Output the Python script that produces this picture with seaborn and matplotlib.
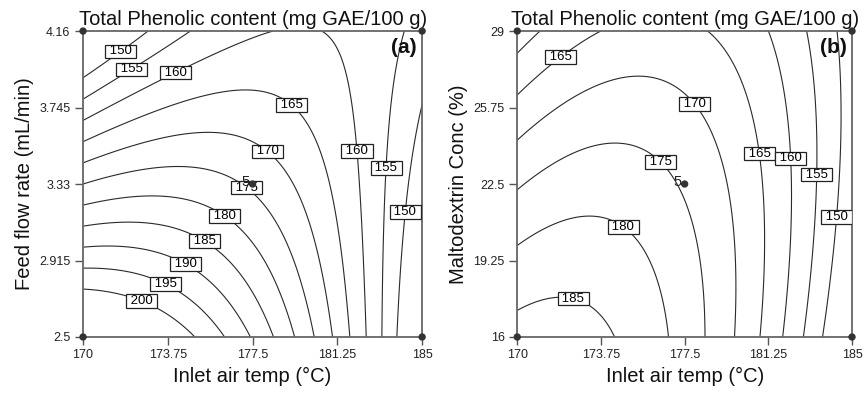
import numpy as np
import matplotlib
matplotlib.use("Agg")
import matplotlib.pyplot as plt
import seaborn as sns
import pandas as pd

# ---------------- data ----------------
title_text = "Total Phenolic content (mg GAE/100 g)"
temp_range = [170, 185]
temp_ticks = [170, 173.75, 177.5, 181.25, 185]
temp_ticklabels = ["170", "173.75", "177.5", "181.25", "185"]

# panel (a): Inlet air temp x Feed flow rate
flow_range = [2.5, 4.16]
flow_ticks = [2.5, 2.915, 3.33, 3.745, 4.16]
flow_ticklabels = ["2.5", "2.915", "3.33", "3.745", "4.16"]
# quadratic model in coded units: b0, A, B, AB, A^2, B^2
coef_a = [174.15, -14.1, -15.1, 21.1, -13.25, 0.3]
levels_a = [150, 155, 160, 165, 170, 175, 180, 185, 190, 195, 200]

# panel (b): Inlet air temp x Maltodextrin conc
malto_range = [16, 29]
malto_ticks = [16, 19.25, 22.5, 25.75, 29]
malto_ticklabels = ["16", "19.25", "22.5", "25.75", "29"]
coef_b = [174.4, -13.8, -6.0, 8.8, -13.75, -2.45]
levels_b = [150, 155, 160, 165, 170, 175, 180, 185]

# label positions (layout)
lab_pos_a = [(171.55, 4.07), (172.0, 3.98), (173.98, 3.965), (179.5, 3.796),
             (178.36, 3.536), (177.39, 3.335), (176.42, 3.184), (175.49, 3.042),
             (174.65, 2.923), (173.76, 2.815), (172.65, 2.717),
             (182.17, 3.509), (183.45, 3.417), (184.16, 3.178)]
lab_pos_b = [(171.79, 28.1), (178.06, 25.97), (176.54, 23.54), (180.88, 23.8),
             (182.22, 23.59), (183.43, 22.9), (184.33, 21.1), (174.88, 20.86),
             (172.55, 17.83)]

# ---------------- style ----------------
sns.set_theme(style="white")
plt.rcParams['font.family'] = ['Liberation Sans', 'DejaVu Sans']

fig = plt.figure(figsize=(8.65, 3.93), dpi=100)
ax_a = fig.add_axes([0.096, 0.1425, 0.392, 0.7785])
ax_b = fig.add_axes([0.598, 0.1425, 0.387, 0.7785])


def model(coef, A, B):
    b0, b1, b2, b12, b11, b22 = coef
    return b0 + b1 * A + b2 * B + b12 * A * B + b11 * A ** 2 + b22 * B ** 2


def panel(ax, yrange, yticks, yticklabels, ylabel, coef, levels, labpos, tag):
    t = np.linspace(temp_range[0], temp_range[1], 400)
    y = np.linspace(yrange[0], yrange[1], 400)
    T, Y = np.meshgrid(t, y)
    tc = (temp_range[0] + temp_range[1]) / 2
    yc = (yrange[0] + yrange[1]) / 2
    A = (T - tc) / ((temp_range[1] - temp_range[0]) / 2)
    B = (Y - yc) / ((yrange[1] - yrange[0]) / 2)
    Z = model(coef, A, B)
    cs = ax.contour(T, Y, Z, levels=levels, colors="#2a2a2a", linewidths=0.8)
    ax.set_xlim(temp_range)
    ax.set_ylim(yrange)
    texts = ax.clabel(cs, fmt=" %d ", inline=False, fontsize=9.5, manual=labpos)
    for tx in texts:
        tx.set_rotation(0)
        tx.set_color("black")
        tx.set_bbox(dict(boxstyle="square,pad=0.06", fc="white", ec="#222222", lw=0.9))
        tx.set_zorder(5)

    # design points
    pts = pd.DataFrame({"x": [temp_range[0], temp_range[1], temp_range[0], temp_range[1], tc],
                        "y": [yrange[0], yrange[0], yrange[1], yrange[1], yc]})
    sns.scatterplot(data=pts, x="x", y="y", ax=ax, color="#333333", s=28,
                    edgecolor="none", zorder=6, clip_on=False, legend=False)
    ax.text(tc - (temp_range[1] - temp_range[0]) * 0.01,
            yc + (yrange[1] - yrange[0]) * 0.008, "5", ha="right",
            va="center", fontsize=10.5, zorder=7, color="#222222")

    ax.set_xticks(temp_ticks)
    ax.set_xticklabels(temp_ticklabels)
    ax.set_yticks(yticks)
    ax.set_yticklabels(yticklabels)
    ax.tick_params(axis="both", which="both", direction="out", length=6, width=1,
                   color="#555555", labelsize=9, pad=3, bottom=True, left=True)
    for lab in ax.get_xticklabels() + ax.get_yticklabels():
        lab.set_color("#222222")
    for sp in ax.spines.values():
        sp.set_color("#666666")
        sp.set_linewidth(1.3)
        sp.set_visible(True)
    ax.set_xlabel("Inlet air temp (°C)", fontsize=14.5, labelpad=4, color="#111111")
    ax.set_ylabel(ylabel, fontsize=14.5, labelpad=4, color="#111111")
    ax.set_title(title_text, fontsize=14.5, pad=4, color="#111111")
    ax.text(0.985, 0.945, tag, transform=ax.transAxes, ha="right", va="center",
            fontsize=15, fontweight="bold", color="#111111", zorder=8)
    ax.grid(False)
    ax.set_facecolor("white")


panel(ax_a, flow_range, flow_ticks, flow_ticklabels, "Feed flow rate (mL/min)",
      coef_a, levels_a, lab_pos_a, "(a)")
panel(ax_b, malto_range, malto_ticks, malto_ticklabels, "Maltodextrin Conc (%)",
      coef_b, levels_b, lab_pos_b, "(b)")

fig.savefig("out.png", dpi=100, facecolor="white")
